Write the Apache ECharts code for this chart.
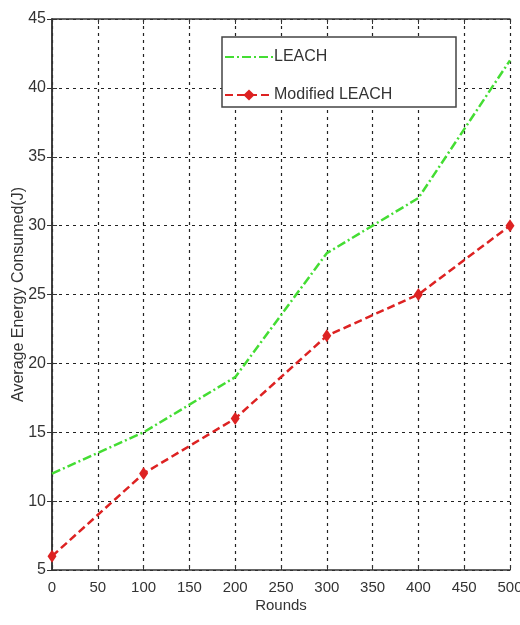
<!DOCTYPE html>
<html>
<head>
<meta charset="utf-8">
<script src="https://cdn.jsdelivr.net/npm/echarts@6/dist/echarts.min.js"></script>
<style>
  html, body { margin: 0; padding: 0; background: #fff; }
  #chart { width: 520px; height: 625px; }
</style>
</head>
<body>
<div id="chart"></div>
<script>
// Rounds on the x axis
const rounds = [0, 100, 200, 300, 400, 500];
// Average energy consumed (J) per protocol
const leach = [12, 15, 19, 28, 32, 42];
const modifiedLeach = [6, 12, 16, 22, 25, 30];
// Axis ranges
const xTicks = [0, 50, 100, 150, 200, 250, 300, 350, 400, 450, 500];
const yTicks = [5, 10, 15, 20, 25, 30, 35, 40, 45];

const font = '"Liberation Sans", Arial, sans-serif';
const chart = echarts.init(document.getElementById('chart'));

const pair = (xs, ys) => xs.map((x, i) => [x, ys[i]]);

const axisLine = { show: true, lineStyle: { color: '#333', width: 1.5 } };
const tickIn = { show: true, inside: true, length: 5, lineStyle: { color: '#333' } };
const dotted = { show: true, lineStyle: { color: '#222', type: [3, 4], width: 1.2 } };

chart.setOption({
  backgroundColor: '#fff',
  animation: false,
  grid: { left: 52, right: 10, top: 19, bottom: 55, outerBoundsMode: 'none', containLabel: false },
  graphic: [{
    type: 'rect',
    z: 50,
    shape: { x: 222, y: 37, width: 234, height: 70 },
    style: { fill: '#fff', stroke: '#444', lineWidth: 1.5 }
  }],
  legend: {
    orient: 'vertical',
    left: 224,
    top: 49,
    padding: 0,
    itemGap: 22,
    itemWidth: 48,
    itemHeight: 14,
    z: 60,
    textStyle: { fontFamily: font, fontSize: 16, color: '#333', padding: [0, 0, 0, -4] },
    data: [
      { name: 'LEACH', itemStyle: { opacity: 0 } },
      { name: 'Modified LEACH' }
    ]
  },
  xAxis: [{
    type: 'value',
    min: xTicks[0], max: xTicks[xTicks.length - 1], interval: 50,
    name: 'Rounds', nameLocation: 'middle', nameGap: 28, nameMoveOverlap: false,
    nameTextStyle: { fontFamily: font, fontSize: 15, color: '#333' },
    axisLine, axisTick: tickIn,
    axisLabel: { fontFamily: font, fontSize: 15, color: '#333', margin: 10 },
    splitLine: dotted
  }, {
    type: 'value', position: 'top',
    min: xTicks[0], max: xTicks[xTicks.length - 1], interval: 50,
    axisLine, axisTick: tickIn, axisLabel: { show: false }, splitLine: { show: false }
  }],
  yAxis: [{
    type: 'value',
    min: yTicks[0], max: yTicks[yTicks.length - 1], interval: 5,
    name: 'Average Energy Consumed(J)', nameLocation: 'middle', nameGap: 25, nameMoveOverlap: false,
    nameTextStyle: { fontFamily: font, fontSize: 16, color: '#333' },
    axisLine, axisTick: tickIn,
    axisLabel: { fontFamily: font, fontSize: 16, color: '#333', margin: 6 },
    splitLine: dotted
  }, {
    type: 'value', position: 'right',
    min: yTicks[0], max: yTicks[yTicks.length - 1], interval: 5,
    axisLine, axisTick: tickIn, axisLabel: { show: false }, splitLine: { show: false }
  }],
  series: [{
    name: 'LEACH',
    type: 'line',
    data: pair(rounds, leach),
    showSymbol: false,
    symbol: 'none',
    color: '#44dd33',
    lineStyle: { color: '#44dd33', width: 2.5, type: [9, 3, 2, 3] }
  }, {
    name: 'Modified LEACH',
    type: 'line',
    data: pair(rounds, modifiedLeach),
    symbol: 'diamond',
    symbolSize: [9, 13],
    color: '#dd2222',
    itemStyle: { color: '#dd2222' },
    lineStyle: { color: '#dd2222', width: 2.5, type: [8, 4] }
  }]
});
</script>
</body>
</html>
